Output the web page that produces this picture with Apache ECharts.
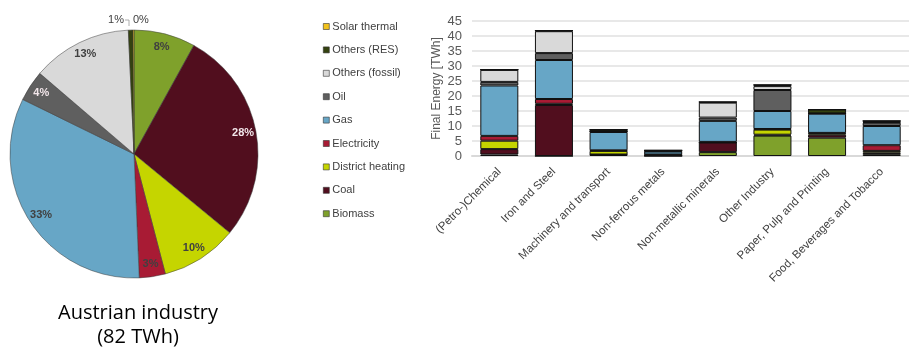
<!DOCTYPE html>
<html>
<head>
<meta charset="utf-8">
<script src="https://cdn.jsdelivr.net/npm/echarts@6/dist/echarts.min.js"></script>
<style>
  html, body { margin: 0; padding: 0; background: #fff; }
  #chart { width: 909px; height: 347px; }
</style>
</head>
<body>
<div id="chart"></div>
<script>
// energy carriers, bottom of the stack first
const energyTypes = ['Biomass', 'Coal', 'District heating', 'Electricity', 'Gas', 'Oil', 'Others (fossil)', 'Others (RES)', 'Solar thermal'];
const energyColors = ['#7fa12b', '#510e1e', '#c5d500', '#a81b34', '#67a6c6', '#5f5f5f', '#d9d9d9', '#34420f', '#f2c21b'];

// Austrian industry total, TWh
const pieValues = [6.6, 23.0, 8.2, 2.8, 27.1, 3.3, 10.7, 0.5, 0.1];

const sectors = ['(Petro-)Chemical', 'Iron and Steel', 'Machinery and transport', 'Non-ferrous metals',
  'Non-metallic minerals', 'Other Industry', 'Paper, Pulp and Printing', 'Food, Beverages and Tobacco'];

// final energy per sector, TWh
const biomass         = [0.5, 0.0, 0.4, 0.0, 1.3, 6.8, 6.1, 0.6];
const coal            = [1.8, 17.0, 0.1, 0.3, 3.2, 0.3, 1.0, 0.5];
const districtHeating = [2.8, 0.4, 1.2, 0.0, 0.0, 1.7, 0.5, 0.6];
const electricity     = [1.6, 1.6, 0.2, 0.2, 0.2, 0.2, 0.1, 1.9];
const gas             = [16.8, 13.0, 6.1, 1.0, 7.0, 6.0, 6.4, 6.4];
const oil             = [1.2, 2.3, 0.2, 0.2, 1.1, 7.0, 0.1, 1.1];
const othersFossil    = [4.0, 7.3, 0.0, 0.0, 5.0, 1.3, 0.0, 0.2];
const othersRES       = [0.1, 0.2, 0.6, 0.2, 0.2, 0.4, 1.3, 0.4];
const solarThermal    = [0, 0, 0, 0, 0, 0, 0, 0];
const stackValues = [biomass, coal, districtHeating, electricity, gas, oil, othersFossil, othersRES, solarThermal];

const yTicks = { min: 0, max: 45, interval: 5 };

const pieTotal = pieValues.reduce((a, b) => a + b, 0);
const pct = v => Math.round(v / pieTotal * 100) + '%';
const isTiny = v => v / pieTotal < 0.02;

const chart = echarts.init(document.getElementById('chart'), null, { renderer: 'canvas' });

const PIE_C = [134, 154], PIE_R = 124;
const lightLabel = ['Coal', 'Oil'];

// slices; the two tiny ones get their label outside, next to each other above the pie
const pieData = energyTypes.map((n, i) => ({
  name: n, value: pieValues[i],
  itemStyle: { color: energyColors[i] },
  label: { show: isTiny(pieValues[i]) },
  labelLine: { show: isTiny(pieValues[i]) && n === 'Others (RES)' }
}));

// percent labels of the larger slices, drawn by a transparent ring so they sit near the rim
const ringData = energyTypes.map((n, i) => ({
  name: n, value: pieValues[i],
  label: { show: !isTiny(pieValues[i]), color: lightLabel.includes(n) ? '#f2e6ea' : '#404040' }
}));

const barSeries = energyTypes.map((n, i) => ({
  name: n,
  type: 'bar',
  stack: 'total',
  barWidth: 38,
  data: stackValues[i],
  itemStyle: { color: energyColors[i], borderColor: '#111', borderWidth: 1 },
  emphasis: { disabled: true }
}));

const topY = PIE_C[1] - PIE_R - 10;

chart.setOption({
  animation: false,
  textStyle: { fontFamily: 'Liberation Sans, Arial, sans-serif' },
  title: {
    text: 'Austrian industry\n(82 TWh)',
    left: 133, top: 296, textAlign: 'center',
    textStyle: { fontFamily: 'Open Sans, sans-serif', fontWeight: 'normal', fontSize: 20, lineHeight: 24, color: '#000' }
  },
  legend: {
    orient: 'vertical',
    left: 318, top: 16,
    itemWidth: 6, itemHeight: 6, itemGap: 12.4,
    icon: 'rect',
    data: energyTypes.slice().reverse(),
    itemStyle: { borderColor: '#333', borderWidth: 0.6 },
    textStyle: { fontSize: 11, color: '#404040', padding: [0, 0, 0, -2] }
  },
  grid: { left: 472, right: -11, top: 21, bottom: 191 },
  xAxis: {
    type: 'category',
    data: sectors,
    axisTick: { show: false },
    axisLine: { lineStyle: { color: '#d9d9d9', width: 2 } },
    axisLabel: { rotate: 45, fontSize: 11.5, color: '#404040', margin: 14, interval: 0 }
  },
  yAxis: {
    type: 'value',
    min: yTicks.min, max: yTicks.max, interval: yTicks.interval,
    name: 'Final Energy [TWh]',
    nameLocation: 'middle',
    nameGap: 29,
    nameTextStyle: { fontSize: 12, color: '#595959' },
    axisLine: { show: false },
    axisTick: { show: false },
    axisLabel: { fontSize: 13, color: '#595959', margin: 10 },
    splitLine: { lineStyle: { color: '#e8e8e8', width: 2 } }
  },
  series: [
    {
      type: 'pie',
      center: PIE_C,
      radius: [0, PIE_R],
      startAngle: 90,
      clockwise: true,
      data: pieData,
      itemStyle: { borderColor: '#3a3a3a', borderWidth: 0.5 },
      label: {
        position: 'outside',
        fontSize: 11, color: '#404040',
        formatter: p => pct(p.value)
      },
      labelLine: { length: 4, length2: 4, lineStyle: { color: '#999', width: 0.8 } },
      labelLayout: p => {
        const name = energyTypes[p.dataIndex];
        if (name === 'Others (RES)') return {
          x: PIE_C[0] - 10, y: topY, align: 'right', verticalAlign: 'middle',
          labelLinePoints: [[PIE_C[0] - 9, topY], [PIE_C[0] - 5, topY], [PIE_C[0] - 5, topY + 6]]
        };
        if (name === 'Solar thermal') return { x: PIE_C[0] - 1, y: topY, align: 'left', verticalAlign: 'middle' };
      },
      emphasis: { disabled: true }
    },
    {
      type: 'pie',
      center: PIE_C,
      radius: [PIE_R - 32, PIE_R],
      startAngle: 90,
      clockwise: true,
      silent: true,
      data: ringData,
      itemStyle: { color: 'rgba(0,0,0,0)', borderWidth: 0 },
      label: {
        position: 'inside',
        fontSize: 11, fontWeight: 'bold',
        formatter: p => pct(p.value)
      },
      labelLine: { show: false },
      emphasis: { disabled: true }
    }
  ].concat(barSeries)
});
</script>
</body>
</html>
